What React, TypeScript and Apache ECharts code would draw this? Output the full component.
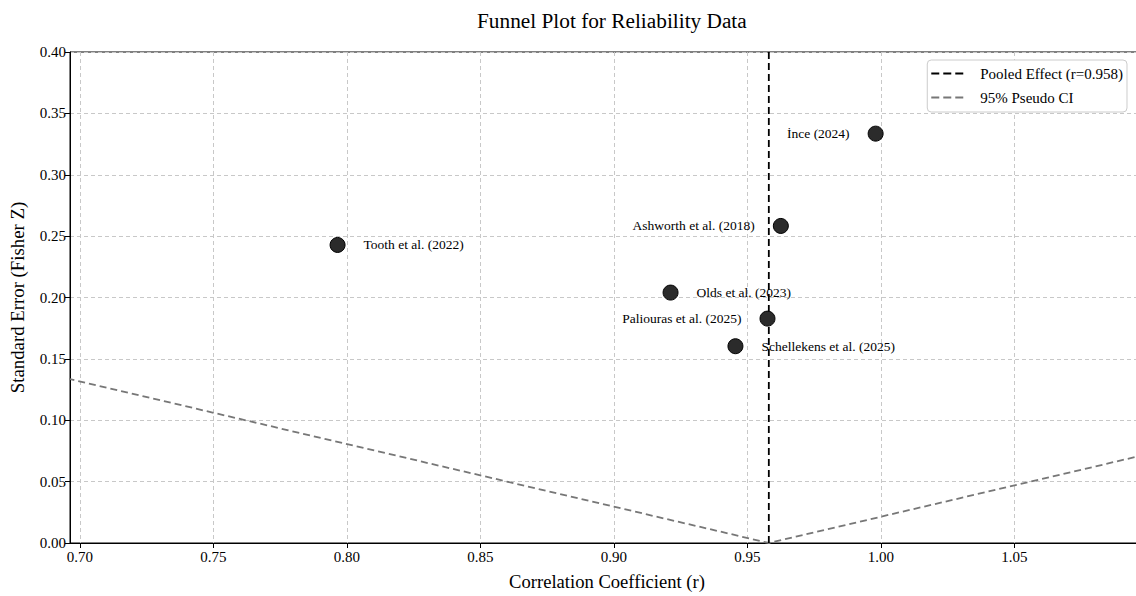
import React, { useEffect, useRef } from "react";
import * as echarts from "echarts";

const studies = ["İnce (2024)", "Ashworth et al. (2018)", "Tooth et al. (2022)", "Olds et al. (2023)", "Paliouras et al. (2025)", "Schellekens et al. (2025)"];
const correlations = [0.998, 0.9625, 0.7965, 0.9212, 0.9575, 0.9455];
const standardErrors = [0.3335, 0.2583, 0.2428, 0.204, 0.1828, 0.1603];
const labelSides = ["left", "left", "right", "right", "left", "right"];
const pooledR = 0.958;
const pooledLine = [[0.958, 0], [0.958, 0.4]];
const ciLine = [[0.174, 0.4], [0.958, 0], [1.742, 0.4]];
const xTicks = [0.7, 0.75, 0.8, 0.85, 0.9, 0.95, 1.0, 1.05];
const yTicks = [0, 0.05, 0.1, 0.15, 0.2, 0.25, 0.3, 0.35, 0.4];

const FONT = "Liberation Serif";
const DASH_ICON = "path://M0,0h8v2h-8z M12,0h8v2h-8z M24,0h8v2h-8z";

export default function App() {
  const ref = useRef<HTMLDivElement>(null);
  useEffect(() => {
    const chart = echarts.init(ref.current!, null, { renderer: "svg" });
    const points = studies.map((name, i) => ({
      name,
      value: [correlations[i], standardErrors[i]],
      label: { position: labelSides[i] },
    }));
    chart.setOption({
      animation: false,
      backgroundColor: "#fff",
      textStyle: { fontFamily: FONT },
      title: {
        text: "Funnel Plot for Reliability Data",
        left: 472,
        top: 5,
        textStyle: { fontFamily: FONT, fontSize: 21.3, fontWeight: "normal", color: "#000" },
      },
      legend: {
        right: 17,
        top: 60,
        orient: "vertical",
        itemWidth: 32,
        itemHeight: 2.5,
        itemGap: 7,
        padding: [5, 4, 6, 4],
        borderColor: "#ccc",
        borderWidth: 1,
        borderRadius: 4,
        backgroundColor: "#fff",
        textStyle: { fontFamily: FONT, fontSize: 15, color: "#000", lineHeight: 17, padding: [0, 0, 0, 12] },
        data: [
          { name: `Pooled Effect (r=${pooledR})`, icon: DASH_ICON, itemStyle: { color: "#000" } },
          { name: "95% Pseudo CI", icon: DASH_ICON, itemStyle: { color: "#777" } },
        ],
      },
      grid: {
        left: 70,
        right: 0,
        top: 52,
        bottom: 50,
        show: true,
        borderColor: "#000",
        borderWidth: 1,
        backgroundColor: "transparent",
      },
      xAxis: {
        type: "value",
        min: 0.6963,
        max: 1.0985,
        minInterval: 0.05,
        maxInterval: 0.05,
        name: "Correlation Coefficient (r)",
        nameLocation: "middle",
        nameGap: 29,
        nameTextStyle: { fontFamily: FONT, fontSize: 18.6, color: "#000" },
        axisLine: { show: true, lineStyle: { color: "#000", width: 1 } },
        axisTick: { show: true, length: 5, customValues: xTicks, lineStyle: { color: "#000" } },
        axisLabel: {
          customValues: xTicks,
          formatter: (v: number) => v.toFixed(2),
          fontFamily: FONT,
          fontSize: 15,
          color: "#000",
          margin: 6,
        },
        splitLine: { show: true, lineStyle: { color: "#c8c8c8", type: [4, 3], width: 1 } },
      },
      yAxis: {
        type: "value",
        min: 0,
        max: 0.4,
        interval: 0.05,
        name: "Standard Error (Fisher Z)",
        nameLocation: "middle",
        nameGap: 43,
        nameTextStyle: { fontFamily: FONT, fontSize: 18.8, color: "#000" },
        axisLine: { show: true, lineStyle: { color: "#000", width: 1 } },
        axisTick: { show: true, length: 5, lineStyle: { color: "#000" } },
        axisLabel: {
          customValues: yTicks,
          formatter: (v: number) => v.toFixed(2),
          fontFamily: FONT,
          fontSize: 15,
          color: "#000",
          margin: 4,
        },
        splitLine: { show: true, lineStyle: { color: "#c8c8c8", type: [4, 3], width: 1 } },
      },
      series: [
        {
          name: "95% Pseudo CI",
          type: "line",
          data: ciLine,
          symbol: "none",
          clip: true,
          lineStyle: { color: "#777", type: [7, 4], width: 1.8 },
          itemStyle: { color: "#777" },
          z: 2,
        },
        {
          name: `Pooled Effect (r=${pooledR})`,
          type: "line",
          data: pooledLine,
          symbol: "none",
          clip: true,
          lineStyle: { color: "#000", type: [7, 4], width: 1.8 },
          itemStyle: { color: "#000" },
          z: 3,
        },
        {
          name: "Studies",
          type: "scatter",
          data: points,
          symbolSize: 15,
          itemStyle: { color: "#2b2b2b", borderColor: "#000", borderWidth: 1, opacity: 1 },
          label: {
            show: true,
            formatter: (p: any) => p.name,
            distance: 18,
            fontFamily: FONT,
            fontSize: 13.5,
            color: "#000",
          },
          z: 4,
        },
      ],
    });
    return () => chart.dispose();
  }, []);
  return <div ref={ref} style={{ position: "fixed", left: 0, top: 0, width: 1144, height: 596 }} />;
}
